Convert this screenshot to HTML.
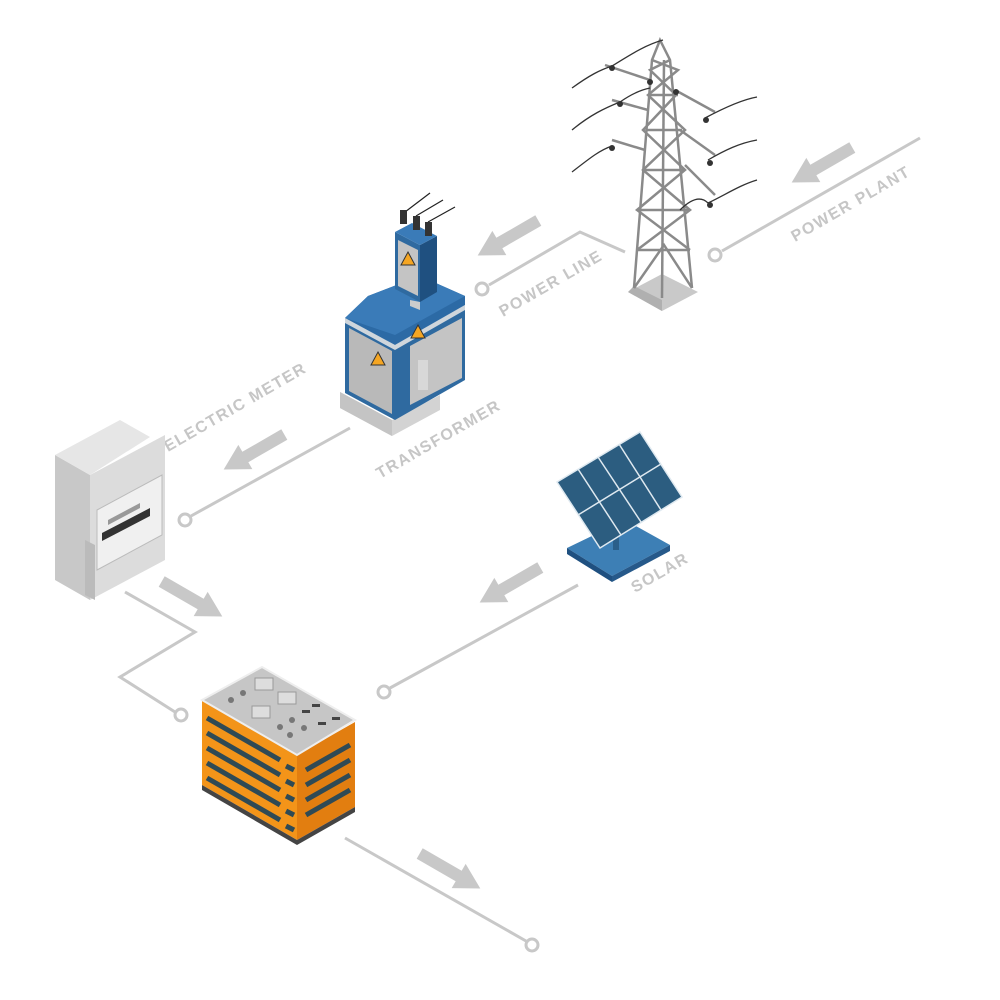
<!DOCTYPE html>
<html><head><meta charset="utf-8"><style>
html,body{margin:0;padding:0;background:#fff;}
svg{display:block}
text{font-family:"Liberation Sans",sans-serif;font-weight:bold;fill:#c6c6c6;font-size:16px;letter-spacing:1.5px}
</style></head><body>
<svg width="1000" height="1000" viewBox="0 0 1000 1000" xmlns="http://www.w3.org/2000/svg">
<g stroke="#c8c8c8" stroke-width="3" fill="none">
<polyline points="920,138 722,251"/>
<circle cx="715" cy="255" r="6" fill="#fff"/>
<polyline points="625,252 580,232 489,285"/>
<circle cx="482" cy="289" r="6" fill="#fff"/>
<polyline points="350,428 191,516"/>
<circle cx="185" cy="520" r="6" fill="#fff"/>
<polyline points="125,592 195,632 120,677 175,712"/>
<circle cx="181" cy="715" r="6" fill="#fff"/>
<polyline points="578,585 390,688"/>
<circle cx="384" cy="692" r="6" fill="#fff"/>
<polyline points="345,838 526,941"/>
<circle cx="532" cy="945" r="6" fill="#fff"/>
</g>
<g fill="#c8c8c8">
<g transform="translate(822,165) rotate(-30)"><polygon points="-35,0 -10,-14 -10,-6 35,-6 35,6 -10,6 -10,14"/></g>
<g transform="translate(508,238) rotate(-30)"><polygon points="-35,0 -10,-14 -10,-6 35,-6 35,6 -10,6 -10,14"/></g>
<g transform="translate(254,452) rotate(-30)"><polygon points="-35,0 -10,-14 -10,-6 35,-6 35,6 -10,6 -10,14"/></g>
<g transform="translate(510,585) rotate(-30)"><polygon points="-35,0 -10,-14 -10,-6 35,-6 35,6 -10,6 -10,14"/></g>
<g transform="translate(192,599) rotate(30)"><polygon points="35,0 10,-14 10,-6 -35,-6 -35,6 10,6 10,14"/></g>
<g transform="translate(450,871) rotate(30)"><polygon points="35,0 10,-14 10,-6 -35,-6 -35,6 10,6 10,14"/></g>
</g>
<text transform="translate(795,242) rotate(-30)">POWER PLANT</text>
<text transform="translate(503,317) rotate(-30)">POWER LINE</text>
<text transform="translate(168,452) rotate(-30)">ELECTRIC METER</text>
<text transform="translate(380,479) rotate(-30)">TRANSFORMER</text>
<text transform="translate(635,593) rotate(-30)">SOLAR</text>

<!-- tower -->
<polygon points="628,292 662,274 698,292 662,311" fill="#c9c9c9"/>
<polygon points="628,292 662,311 662,300 634,286" fill="#b0b0b0"/>
<g stroke="#8a8a8a" stroke-width="2.5" fill="none">
<polyline points="634,288 652,60 660,40 670,60 692,288"/>
<polyline points="662,298 664,60"/>
<polyline points="634,288 664,245 692,288"/>
<polyline points="637,250 690,210 643,170 685,130 648,95 678,70 652,60"/>
<polyline points="690,250 637,210 685,170 643,130 676,95 650,70 670,60"/>
<line x1="637" y1="250" x2="690" y2="250"/><line x1="640" y1="210" x2="688" y2="210"/>
<line x1="643" y1="170" x2="685" y2="170"/><line x1="646" y1="130" x2="682" y2="130"/>
<line x1="648" y1="95" x2="678" y2="95"/>
<line x1="605" y1="65" x2="650" y2="80"/><line x1="612" y1="100" x2="648" y2="110"/>
<line x1="612" y1="140" x2="645" y2="150"/><line x1="675" y1="90" x2="715" y2="112"/>
<line x1="680" y1="130" x2="715" y2="155"/><line x1="685" y1="165" x2="715" y2="195"/>
</g>
<g stroke="#333" stroke-width="1.3" fill="none">
<path d="M572,88 C590,75 600,70 612,66"/><path d="M572,130 C590,115 605,108 620,102"/>
<path d="M572,172 C590,158 600,150 612,146"/><path d="M612,66 C630,55 645,45 663,40"/>
<path d="M620,102 C630,95 640,90 650,88"/>
<path d="M705,118 C720,110 740,100 757,97"/><path d="M708,160 C725,150 740,143 757,140"/>
<path d="M708,203 C725,195 740,185 757,180"/><path d="M680,210 C690,200 700,195 708,203"/>
</g>
<g fill="#333"><circle cx="612" cy="68" r="3"/><circle cx="620" cy="104" r="3"/><circle cx="612" cy="148" r="3"/><circle cx="706" cy="120" r="3"/><circle cx="710" cy="163" r="3"/><circle cx="710" cy="205" r="3"/><circle cx="650" cy="82" r="3"/><circle cx="676" cy="92" r="3"/></g>

<!-- transformer -->
<polygon points="340,392 392,420 440,395 440,410 392,436 340,408" fill="#d3d3d3"/>
<polygon points="340,392 392,420 392,436 340,408" fill="#c4c4c4"/>
<polygon points="345,318 395,345 395,420 345,393" fill="#2f6aa0"/>
<polygon points="349,328 392,351 392,414 349,391" fill="#b9b9b9"/>
<polygon points="395,345 465,305 465,380 395,420" fill="#2f6aa0"/>
<polygon points="410,346 462,318 462,378 410,405" fill="#c4c4c4"/>
<polygon points="345,318 395,345 465,305 465,296 420,276 368,296" fill="#2c6aa5"/>
<polygon points="368,296 420,276 465,296 395,335 345,318" fill="#3a7bb8"/>
<polygon points="345,318 395,345 465,305 465,310 395,350 345,323" fill="#cfd6dc"/>
<polygon points="418,325 425,338 411,338" fill="#f5a623" stroke="#333" stroke-width="1"/>
<polygon points="378,352 385,365 371,365" fill="#f5a623" stroke="#333" stroke-width="1"/>
<rect x="418" y="360" width="10" height="30" fill="#d8d8d8"/>
<!-- top box -->
<polygon points="395,232 420,245 420,302 395,289" fill="#2f6aa0"/>
<polygon points="420,245 437,236 437,292 420,302" fill="#1f5080"/>
<polygon points="398,240 418,250 418,296 398,286" fill="#c4c4c4"/>
<polygon points="395,232 412,223 437,236 420,245" fill="#3a7bb8"/>
<polygon points="408,252 415,265 401,265" fill="#f5a623" stroke="#333" stroke-width="1"/>
<polygon points="410,300 420,302 420,310 410,306" fill="#ccc"/>
<g stroke="#222" stroke-width="1.2"><line x1="405" y1="212" x2="430" y2="193"/><line x1="416" y1="216" x2="443" y2="200"/><line x1="428" y1="222" x2="455" y2="207"/></g>
<g fill="#333"><rect x="400" y="210" width="7" height="14"/><rect x="413" y="216" width="7" height="14"/><rect x="425" y="222" width="7" height="14"/></g>

<!-- meter -->
<polygon points="55,455 90,475 90,600 55,580" fill="#c8c8c8"/>
<polygon points="90,475 165,435 165,560 90,600" fill="#dcdcdc"/>
<polygon points="55,455 120,420 150,437 90,475" fill="#e6e6e6"/>
<polygon points="97,510 162,475 162,535 97,570" fill="#f0f0f0" stroke="#bbb"/>
<polygon points="102,533 150,508 150,516 102,541" fill="#333"/>
<polygon points="108,520 140,503 140,508 108,525" fill="#999"/>
<polygon points="85,540 95,545 95,600 85,595" fill="#bbb"/>

<!-- solar -->
<polygon points="567,548 625,520 670,545 612,576" fill="#3d7fb5"/>
<polygon points="567,548 612,576 612,582 567,554" fill="#1f5080"/>
<polygon points="612,576 670,545 670,551 612,582" fill="#26598a"/>
<rect x="613" y="515" width="6" height="35" fill="#2a5f8a"/>
<polygon points="557,482 640,432 682,497 600,548" fill="#2c5d80" stroke="#dfe9f0" stroke-width="1.5"/>
<g stroke="#dfe9f0" stroke-width="1.5"><line x1="578" y1="515" x2="661" y2="464"/><line x1="578" y1="469" x2="621" y2="535"/><line x1="598" y1="457" x2="641" y2="522"/><line x1="619" y1="444" x2="661" y2="510"/></g>

<!-- building -->
<polygon points="202,700 297,755 297,840 202,785" fill="#f39419"/>
<polygon points="297,755 355,722 355,807 297,840" fill="#e27e10"/>
<polygon points="202,785 297,840 355,807 355,812 297,845 202,790" fill="#444"/>
<polygon points="202,700 262,667 355,720 297,755" fill="#c6c6c6" stroke="#eee" stroke-width="2"/>
<g stroke="#2f4a55" stroke-width="5">
<line x1="207" y1="718" x2="280" y2="760"/><line x1="207" y1="733" x2="280" y2="775"/><line x1="207" y1="748" x2="280" y2="790"/><line x1="207" y1="763" x2="280" y2="805"/><line x1="207" y1="778" x2="280" y2="820"/>
<line x1="286" y1="766" x2="294" y2="770"/><line x1="286" y1="781" x2="294" y2="785"/><line x1="286" y1="796" x2="294" y2="800"/><line x1="286" y1="811" x2="294" y2="815"/><line x1="286" y1="826" x2="294" y2="830"/>
<line x1="306" y1="770" x2="350" y2="745"/><line x1="306" y1="785" x2="350" y2="760"/><line x1="306" y1="800" x2="350" y2="775"/><line x1="306" y1="815" x2="350" y2="790"/>
</g>
<g fill="#ddd" stroke="#999"><rect x="255" y="678" width="18" height="12"/><rect x="278" y="692" width="18" height="12"/><rect x="252" y="706" width="18" height="12"/></g>
<g fill="#777"><circle cx="231" cy="700" r="3"/><circle cx="243" cy="693" r="3"/><circle cx="280" cy="727" r="3"/><circle cx="292" cy="720" r="3"/><circle cx="304" cy="728" r="3"/><circle cx="290" cy="735" r="3"/></g>
<g fill="#444"><rect x="302" y="710" width="8" height="3"/><rect x="312" y="704" width="8" height="3"/><rect x="318" y="722" width="8" height="3"/><rect x="332" y="717" width="8" height="3"/></g>
</svg>
</body></html>
